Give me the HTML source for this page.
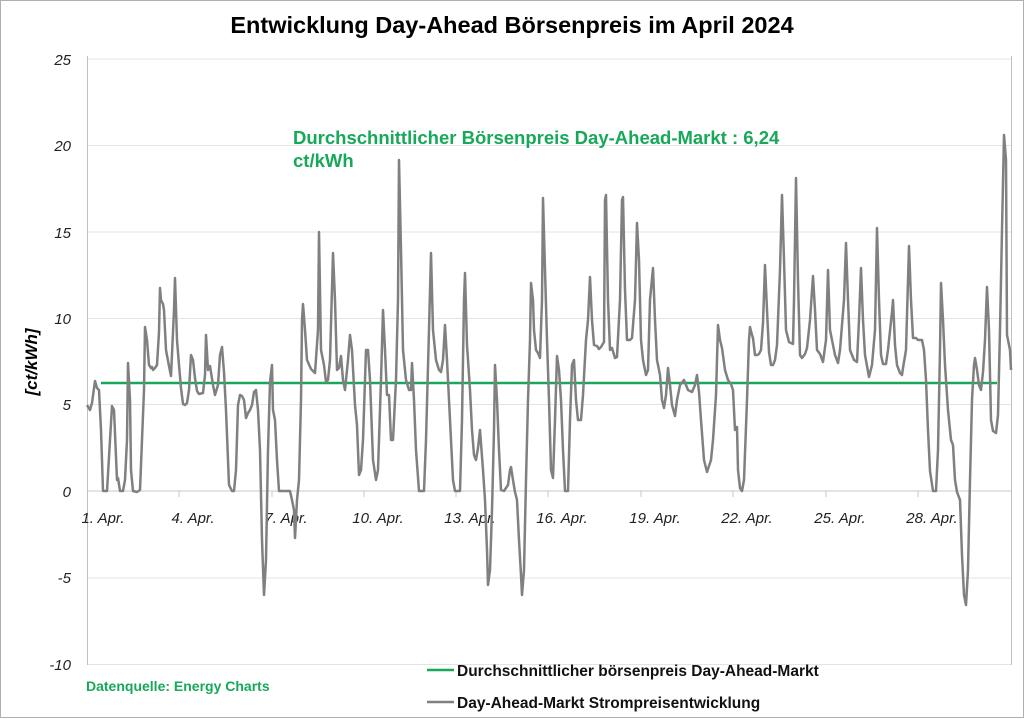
<!DOCTYPE html>
<html><head><meta charset="utf-8"><style>
html,body{margin:0;padding:0;background:#fff}
svg{display:block}
</style></head><body>
<svg width="1024" height="719" viewBox="0 0 1024 719" xmlns="http://www.w3.org/2000/svg" font-family="Liberation Sans, sans-serif">
<rect x="0.5" y="0.5" width="1023" height="717" fill="#fff" stroke="#b0b0b0"/>
<text x="512" y="33" text-anchor="middle" font-size="23.5" font-weight="bold" fill="#000">Entwicklung Day-Ahead Börsenpreis im April 2024</text>
<g stroke="#e3e3e3" stroke-width="1">
<line x1="87" y1="59" x2="1012" y2="59"/><line x1="87" y1="145.5" x2="1012" y2="145.5"/>
<line x1="87" y1="232" x2="1012" y2="232"/><line x1="87" y1="318.5" x2="1012" y2="318.5"/>
<line x1="87" y1="404.5" x2="1012" y2="404.5"/><line x1="87" y1="578" x2="1012" y2="578"/>
<line x1="87" y1="664.5" x2="1012" y2="664.5"/>
</g>
<line x1="87" y1="491" x2="1012" y2="491" stroke="#c8c8c8"/>
<line x1="87.5" y1="56" x2="87.5" y2="665" stroke="#c0c0c0"/>
<line x1="1011.5" y1="56" x2="1011.5" y2="665" stroke="#c0c0c0"/>
<g stroke="#c8c8c8">
<line x1="179" y1="491" x2="179" y2="497"/><line x1="272" y1="491" x2="272" y2="497"/><line x1="364" y1="491" x2="364" y2="497"/><line x1="456" y1="491" x2="456" y2="497"/><line x1="548" y1="491" x2="548" y2="497"/><line x1="641" y1="491" x2="641" y2="497"/><line x1="733" y1="491" x2="733" y2="497"/><line x1="826" y1="491" x2="826" y2="497"/><line x1="918" y1="491" x2="918" y2="497"/>
</g>
<g font-size="15" font-style="italic" fill="#222" text-anchor="end">
<text x="71" y="65">25</text><text x="71" y="151">20</text><text x="71" y="238">15</text><text x="71" y="324">10</text><text x="71" y="410">5</text><text x="71" y="497">0</text><text x="71" y="583">-5</text><text x="71" y="670">-10</text>
</g>
<g font-size="15" font-style="italic" fill="#222" text-anchor="middle">
<text x="103" y="523">1. Apr.</text><text x="193" y="523">4. Apr.</text><text x="286" y="523">7. Apr.</text><text x="378" y="523">10. Apr.</text><text x="470" y="523">13. Apr.</text><text x="562" y="523">16. Apr.</text><text x="655" y="523">19. Apr.</text><text x="747" y="523">22. Apr.</text><text x="840" y="523">25. Apr.</text><text x="932" y="523">28. Apr.</text>
</g>
<text transform="translate(37,362) rotate(-90)" text-anchor="middle" font-size="17" font-weight="bold" font-style="italic" fill="#000">[ct/kWh]</text>
<text x="293" y="144" font-size="18.5" font-weight="bold" fill="#17a85a">Durchschnittlicher Börsenpreis Day-Ahead-Markt : 6,24</text>
<text x="293" y="167" font-size="18.5" font-weight="bold" fill="#17a85a">ct/kWh</text>
<line x1="101" y1="383" x2="997" y2="383" stroke="#17a85a" stroke-width="2.5"/>
<polyline fill="none" stroke="#808080" stroke-width="2.5" stroke-linejoin="round" points="87,405 90,410 92,403 95,381 97,388 99,390 101,430 103,491 107,491 110,440 112,406 114,410 117,480 118,478 120,491 123,491 125,480 127,440 128,363 130,400 131,470 133,491 137,492 140,490 142,440 144,390 145,327 147,340 149,365 151,368 152,367 153,370 155,368 157,365 159,332 160,288 161,300 163,304 164,310 166,350 169,366 171,376 174,310 175,278 177,340 179,365 181,388 183,404 185,405 187,403 189,390 191,355 193,360 195,378 197,391 199,394 203,393 205,375 206,335 208,370 210,366 213,385 215,395 218,385 220,355 222,347 224,372 226,410 229,485 232,491 234,491 236,470 238,405 240,395 242,396 244,400 246,418 248,413 250,410 252,405 254,392 256,390 258,410 260,450 262,540 264,595 266,560 268,450 270,382 272,365 273,410 275,420 277,460 279,491 290,491 292,500 294,510 295,538 297,500 299,480 301,400 302,320 303,304 305,330 307,360 311,369 315,373 318,330 319,232 321,350 324,365 326,382 328,380 330,360 333,253 335,300 337,370 339,368 341,356 343,380 345,390 348,360 350,335 352,350 355,405 357,425 359,475 361,470 363,440 366,350 368,350 370,380 373,460 376,480 378,470 381,380 383,310 385,350 387,395 389,395 391,440 393,440 396,380 398,300 399,160 401,250 403,350 406,380 409,390 411,390 412,363 414,400 416,450 419,491 424,491 426,440 429,330 431,253 433,330 436,360 439,370 441,372 443,360 445,325 447,360 449,400 451,440 453,480 455,491 460,491 462,420 464,300 465,273 467,345 470,390 472,430 474,455 476,460 478,448 480,430 483,470 485,500 487,550 488,585 490,570 492,510 494,430 495,365 497,400 499,450 501,490 504,491 508,485 510,470 511,467 513,480 515,492 517,500 519,540 521,575 522,595 524,570 526,480 528,400 530,340 531,283 533,300 534,330 536,350 538,353 540,358 542,300 543,198 545,270 547,340 549,400 551,470 553,478 555,420 557,356 559,370 561,400 563,450 565,491 568,491 570,420 572,365 574,360 576,400 578,420 581,420 583,395 586,340 588,320 590,277 592,320 594,345 597,346 599,349 601,347 604,342 605,200 606,195 608,300 610,350 612,348 615,358 617,357 620,300 622,200 623,197 625,290 627,340 630,340 632,338 635,300 637,223 639,260 641,340 643,360 646,375 648,370 650,300 653,268 655,320 657,360 660,375 662,400 664,408 666,395 668,368 670,385 672,405 675,416 677,400 680,385 684,380 688,390 692,392 695,385 697,375 699,392 701,420 704,460 707,472 711,460 713,440 716,395 718,325 720,340 722,348 725,370 728,380 731,384 733,390 735,430 737,427 738,470 740,488 742,491 744,480 747,400 749,340 750,327 752,335 753,338 755,355 757,355 759,354 761,350 763,323 765,265 767,310 769,352 771,365 773,365 775,360 777,345 780,270 782,195 784,260 786,330 789,342 793,344 794,300 796,178 798,280 800,355 802,358 805,354 807,348 810,320 813,276 815,310 817,350 820,354 823,362 826,340 828,270 830,330 832,340 835,355 838,363 840,350 844,300 846,243 848,300 850,350 854,360 857,362 859,320 861,268 863,320 865,355 869,377 872,365 875,330 877,228 879,300 881,355 883,364 886,364 888,350 892,312 893,300 895,345 897,365 900,373 902,375 903,368 906,350 909,246 911,300 913,338 916,338 918,340 922,340 924,350 926,380 928,430 930,471 933,491 936,491 938,450 940,350 941,283 943,320 945,365 948,410 951,440 953,445 955,480 957,492 960,500 962,555 964,595 966,605 968,570 970,480 972,400 974,365 975,358 977,370 979,385 981,390 983,372 985,340 987,287 989,330 991,420 993,431 996,433 998,415 1000,330 1002,230 1004,135 1006,160 1007,335 1010,350 1011,370"/>
<line x1="427" y1="670" x2="454" y2="670" stroke="#17a85a" stroke-width="2.5"/>
<text x="457" y="676" font-size="15.5" font-weight="bold" fill="#111">Durchschnittlicher börsenpreis Day-Ahead-Markt</text>
<line x1="427" y1="702" x2="454" y2="702" stroke="#808080" stroke-width="2.5"/>
<text x="457" y="708" font-size="15.5" font-weight="bold" fill="#111">Day-Ahead-Markt Strompreisentwicklung</text>
<text x="86" y="691" font-size="14" font-weight="bold" fill="#17a85a">Datenquelle: Energy Charts</text>
</svg>
</body></html>
